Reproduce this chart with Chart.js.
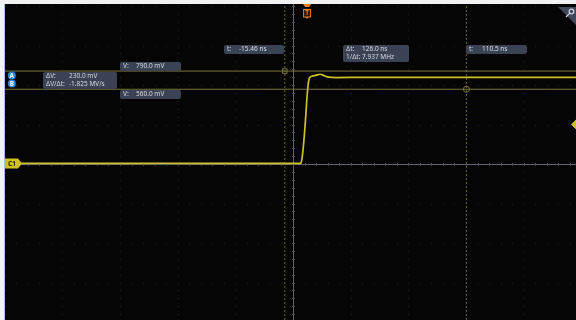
<!DOCTYPE html>
<html>
<head>
<meta charset="utf-8">
<script src="https://cdn.jsdelivr.net/npm/chart.js@4.4.1/dist/chart.umd.min.js"></script>
<style>
html, body { margin: 0; padding: 0; background: #f2f2f2; }
canvas { display: block; }
</style>
</head>
<body>
<canvas id="scope" width="576" height="320"></canvas>
<script>
// trace samples, time in ns and level in mV
var timeNs  = [-209.5, -150, -100, -50, -20, -5, -4.3, -3.4, -2.6, -1.8, -1.0, -0.2, 0.6, 1.4, 2.2, 3.5, 6, 9, 12, 15, 20, 40, 80, 120, 160, 186.5];
var levelMv = [-378, -378, -377, -378, -378, -378, -374, -300, -170, 0, 200, 420, 600, 690, 715, 726, 735, 750, 730, 713, 708, 710, 709, 710, 709, 710];

// cursors (a/b in time, A/B in level) and trigger
var cursorTimes  = [-15.46, 110.5];
var cursorLevels = [790.0, 560.0];
var triggerTime  = 0;
var triggerLevel = 115;

// readout texts
var timeReadouts  = ["-15.46 ns", "110.5 ns"];
var deltaTime     = ["126.0 ns", "7.937 MHz"];
var levelReadouts = ["790.0 mV", "560.0 mV"];
var deltaLevel    = ["230.0 mV", "-1.825 MV/s"];

// horizontal / vertical setup
var nsPerDiv = 40, mvPerDiv = 500;
var centerNs = -9.5, centerMv = -380;
var xMin = -209.5, xMax = 186.5;
var yMin = -2361, yMax = 1639;

var traceColor = "#cdc126";
var cursorColor = "#79763a";
var cursorDashColor = "#66642c";
var boxColor = "#3a4253";
var textColor = "#d6dae2";
var font = '6.5px "Noto Sans"';

function pts(xs, ys) {
	return xs.map(function(x, i) { return {x: x, y: ys[i]}; });
}

function roundBox(c, x, y, w, h, r) {
	c.beginPath();
	c.moveTo(x + r, y);
	c.arcTo(x + w, y, x + w, y + h, r);
	c.arcTo(x + w, y + h, x, y + h, r);
	c.arcTo(x, y + h, x, y, r);
	c.arcTo(x, y, x + w, y, r);
	c.closePath();
	c.fillStyle = boxColor;
	c.fill();
}

// lines: [label, value]; valueX is offset of the value column
function readout(c, x, y, w, lines, valueX) {
	var h = lines.length * 8 + 1;
	roundBox(c, x, y, w, h, 2);
	c.fillStyle = textColor;
	c.font = font;
	c.textBaseline = "middle";
	c.textAlign = "left";
	for (var i = 0; i < lines.length; i++) {
		c.fillText(lines[i][0], x + 3, y + 4.5 + i * 8);
		c.fillText(lines[i][1], x + valueX, y + 4.5 + i * 8);
	}
}

// background, graticule and centre lines
var graticule = {
	id: "graticule",
	beforeDraw: function(chart) {
		var c = chart.ctx, a = chart.chartArea;
		c.save();
		c.fillStyle = "#f2f2f2";
		c.fillRect(0, 0, chart.width, chart.height);
		c.fillStyle = "#050505";
		c.fillRect(a.left, a.top, a.right - a.left, a.bottom - a.top);
		c.fillStyle = "#a8bce0";
		c.fillRect(a.left - 1, a.top, 1, a.bottom - a.top);
		c.restore();
	},
	beforeDatasetsDraw: function(chart) {
		var c = chart.ctx, a = chart.chartArea;
		var sx = chart.scales.x, sy = chart.scales.y;
		var divX = sx.getPixelForValue(centerNs + nsPerDiv) - sx.getPixelForValue(centerNs);
		var divY = sy.getPixelForValue(centerMv) - sy.getPixelForValue(centerMv + mvPerDiv);
		var cx = Math.round(sx.getPixelForValue(centerNs));
		var cy = Math.round(sy.getPixelForValue(centerMv));
		c.save();
		c.fillStyle = "#222227";
		for (var k = -5; k <= 5; k++) {
			var gx = Math.round(cx + k * divX);
			for (var py = cy - 20 * divY / 5; py < a.bottom; py += divY / 5) {
				if (py > a.top) c.fillRect(gx, Math.round(py), 1, 1);
			}
		}
		for (var k = -4; k <= 4; k++) {
			var gy = Math.round(cy + k * divY);
			for (var px = cx - 25 * divX / 5; px < a.right; px += divX / 5) {
				if (px > a.left) c.fillRect(Math.round(px), gy, 1, 1);
			}
		}
		// centre cross with ticks
		c.fillStyle = "#64646e";
		c.fillRect(cx, a.top, 1, a.bottom - a.top);
		c.fillRect(a.left, cy, a.right - a.left, 1);
		c.fillStyle = "#4a4a52";
		for (var py = cy - 20 * divY / 5; py < a.bottom; py += divY / 5) {
			c.fillRect(cx - 1, Math.round(py), 3, 1);
		}
		for (var px = cx - 25 * divX / 5; px < a.right; px += divX / 5) {
			c.fillRect(Math.round(px), cy - 1, 1, 3);
		}
		c.restore();
	},
	afterDatasetsDraw: function(chart) {
		var c = chart.ctx, a = chart.chartArea;
		var sx = chart.scales.x, sy = chart.scales.y;
		var xa = sx.getPixelForValue(cursorTimes[0]), xb = sx.getPixelForValue(cursorTimes[1]);
		var ya = sy.getPixelForValue(cursorLevels[0]), yb = sy.getPixelForValue(cursorLevels[1]);
		c.save();

		// time readouts
		readout(c, Math.round(xa) - 61, 45, 60, [["t:", timeReadouts[0]]], 15);
		readout(c, Math.round((xa + xb) / 2) - 33, 45, 66, [["\u0394t:", deltaTime[0]], ["1/\u0394t:", deltaTime[1]]], 19);
		readout(c, Math.round(xb), 45, 61, [["t:", timeReadouts[1]]], 16);

		// level readouts
		readout(c, 120, Math.round(ya) - 9, 61, [["V:", levelReadouts[0]]], 16);
		readout(c, 120, Math.round(yb) + 1, 61, [["V:", levelReadouts[1]]], 16);
		readout(c, 43, Math.round(ya) + 1, 74, [["\u0394V:", deltaLevel[0]], ["\u0394V/\u0394t:", deltaLevel[1]]], 26);

		// A / B badges
		c.font = 'bold 6.5px "Noto Sans"';
		c.textAlign = "center";
		c.textBaseline = "middle";
		[["A", 75.5], ["B", 83.5]].forEach(function(b) {
			c.beginPath();
			c.arc(11.8, b[1], 4, 0, Math.PI * 2);
			c.fillStyle = "#2b82d6";
			c.fill();
			c.fillStyle = "#ffffff";
			c.fillText(b[0], 11.8, b[1] + 0.3);
		});

		// C1 channel marker
		var cy = sy.getPixelForValue(centerMv);
		c.beginPath();
		c.moveTo(a.left, cy - 5);
		c.lineTo(a.left + 13, cy - 5);
		c.lineTo(a.left + 17, cy);
		c.lineTo(a.left + 13, cy + 5);
		c.lineTo(a.left, cy + 5);
		c.closePath();
		c.fillStyle = traceColor;
		c.fill();
		c.fillStyle = "#1e1c02";
		c.textAlign = "left";
		c.fillText("C1", a.left + 3, cy + 0.3);

		// trigger position marker
		var tx = sx.getPixelForValue(triggerTime);
		c.fillStyle = "#ec7d1c";
		c.beginPath();
		c.moveTo(tx - 4, 4);
		c.lineTo(tx + 4, 4);
		c.lineTo(tx + 2, 7);
		c.lineTo(tx - 2, 7);
		c.closePath();
		c.fill();
		c.fillStyle = "#2a1a0c";
		c.fillRect(tx - 4, 9, 8, 8);
		c.strokeStyle = "#ec7d1c";
		c.lineWidth = 1;
		c.strokeRect(tx - 3.5, 9.5, 7, 7.5);
		c.fillStyle = "#ec7d1c";
		c.beginPath();
		c.moveTo(tx - 1.5, 17);
		c.lineTo(tx + 1.5, 17);
		c.lineTo(tx, 19);
		c.closePath();
		c.fill();
		c.font = 'bold 6.5px "Noto Sans"';
		c.textAlign = "center";
		c.fillText("T", tx, 13.5);

		// zoom corner
		c.fillStyle = "#414959";
		c.beginPath();
		c.moveTo(558, 7);
		c.lineTo(576, 7);
		c.lineTo(576, 25);
		c.closePath();
		c.fill();
		c.strokeStyle = "#cdd3e0";
		c.lineWidth = 1.2;
		c.beginPath();
		c.arc(571.5, 11.5, 2.3, 0, Math.PI * 2);
		c.moveTo(569.8, 13.2);
		c.lineTo(566, 17);
		c.stroke();

		// white strip above the screen
		c.fillStyle = "#f2f2f2";
		c.fillRect(0, 0, chart.width, a.top);
		c.restore();
	}
};

var cfg = {
	type: "line",
	data: {
		datasets: [
			{
				data: pts(timeNs, levelMv),
				borderColor: traceColor,
				borderWidth: 1.7,
				pointRadius: 0,
				cubicInterpolationMode: "monotone",
				order: 0
			},
			{
				data: pts([xMin, xMax], [cursorLevels[0], cursorLevels[0]]),
				borderColor: cursorColor, borderWidth: 1, pointRadius: 0, order: 2
			},
			{
				data: pts([xMin, xMax], [cursorLevels[1], cursorLevels[1]]),
				borderColor: cursorColor, borderWidth: 1, pointRadius: 0, order: 2
			},
			{
				data: pts([cursorTimes[0], cursorTimes[0]], [yMin, yMax]),
				borderColor: cursorDashColor, borderWidth: 1, borderDash: [2, 2], pointRadius: 0, order: 2
			},
			{
				data: pts([cursorTimes[1], cursorTimes[1]], [yMin, yMax]),
				borderColor: cursorDashColor, borderWidth: 1, borderDash: [2, 2], pointRadius: 0, order: 2
			},
			{
				data: pts([cursorTimes[0]], [cursorLevels[0]]),
				showLine: false, pointStyle: "rect", pointRadius: 3.2,
				pointBorderColor: cursorColor, pointBackgroundColor: "rgba(0,0,0,0)", pointBorderWidth: 1, order: 1
			},
			{
				data: pts([cursorTimes[1]], [cursorLevels[1]]),
				showLine: false, pointStyle: "circle", pointRadius: 3,
				pointBorderColor: cursorColor, pointBackgroundColor: "rgba(0,0,0,0)", pointBorderWidth: 1, order: 1
			},
			{
				data: pts([xMax], [triggerLevel]),
				showLine: false, pointStyle: "rectRot", pointRadius: 4.5,
				pointBorderColor: traceColor, pointBackgroundColor: traceColor, clip: false, order: 1
			}
		]
	},
	options: {
		responsive: false,
		animation: false,
		events: [],
		layout: { autoPadding: false, padding: { left: 5, top: 4, right: 0, bottom: 0 } },
		scales: {
			x: { type: "linear", min: xMin, max: xMax, display: false },
			y: { type: "linear", min: yMin, max: yMax, display: false }
		},
		plugins: { legend: { display: false }, tooltip: { enabled: false } }
	},
	plugins: [graticule]
};

var scopeChart = new Chart(document.getElementById("scope"), cfg);
</script>
</body>
</html>
